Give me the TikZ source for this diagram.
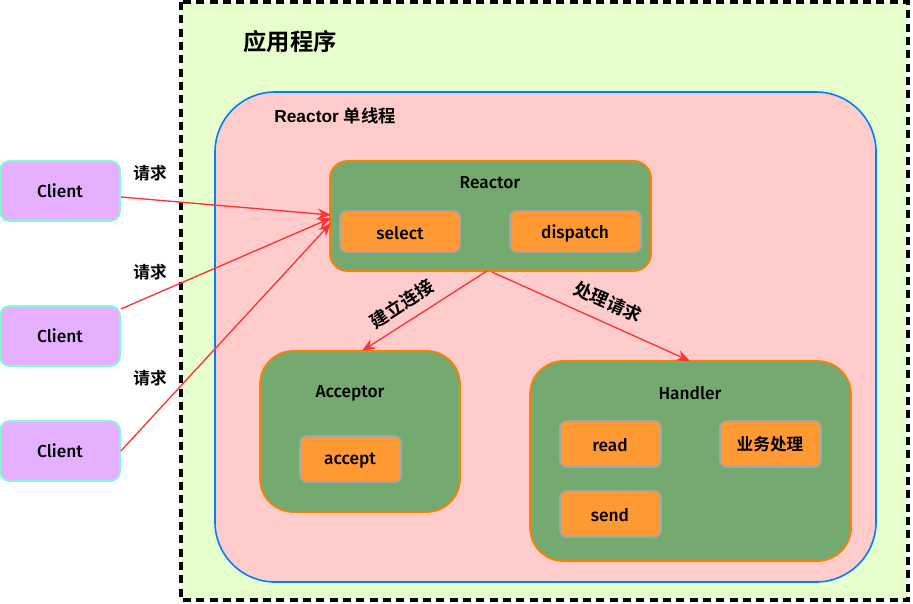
\documentclass[tikz,border=0pt]{standalone}
\usepackage{fontspec}
\setmainfont{Fira Sans}[UprightFont={* Medium}]
\newfontfamily\cjk{Noto Sans CJK SC}[BoldFont={* Bold}]
\newfontfamily\arialf{Liberation Sans}
\usetikzlibrary{arrows.meta}
\definecolor{appbg}{HTML}{E6FFCC}
\definecolor{thrbg}{HTML}{FFCCCC}
\definecolor{thrline}{HTML}{007FFF}
\definecolor{grn}{HTML}{74AA70}
\definecolor{orline}{HTML}{FF8000}
\definecolor{orfill}{HTML}{FF9933}
\definecolor{clfill}{HTML}{E5B0FF}
\definecolor{clline}{HTML}{80FFCC}
\definecolor{arr}{HTML}{FF3333}
\tikzset{
  bigbox/.style={draw=orline, fill=grn, line width=1.3pt},
  subbox/.style={draw=black!35, fill=orfill, line width=1.3pt, rounded corners=5pt},
  clbox/.style={draw=clline, fill=clfill, line width=1.3pt, rounded corners=7pt},
  lbl/.style={font=\fontsize{13}{15}\selectfont},
  cjklbl/.style={font=\cjk\bfseries\fontsize{12.5}{14}\selectfont},
  rotlbl/.style={font=\cjk\bfseries\fontsize{13.5}{15}\selectfont},
  conn/.style={draw=arr, line width=1pt, -{Stealth[length=10pt,width=8pt]}},
}
\begin{document}
\begin{tikzpicture}[x=0.75pt,y=-0.75pt]
\useasboundingbox (0,0) rectangle (913,603);
% application
\path[fill=appbg] (181,2) rectangle (908,600);
\draw[line width=2.4pt, dash pattern=on 6pt off 4pt] (181,2) rectangle (908,600);
\node[font=\cjk\bfseries\fontsize{17.5}{20}\selectfont] (app) at (290,42) {应用程序};
% single thread
\draw[draw=thrline, fill=thrbg, line width=1.2pt, rounded corners=45pt] (215,92) rectangle (876,582);
\node[font=\arialf\bfseries\fontsize{13}{15}\selectfont] (thr) at (335,116) {Reactor {\cjk\bfseries 单线程}};
% reactor
\draw[bigbox, rounded corners=13pt] (330,161) rectangle (651,271);
\coordinate (rb1) at (487,271);
\coordinate (rb2) at (492,272);
\node[lbl] (reactor) at (490,183) {Reactor};
\draw[subbox] (340,211) rectangle (460,252);
\node[lbl] (select) at (400,233) {select};
\draw[subbox] (510,211) rectangle (641,252);
\node[lbl] (dispatch) at (575,233) {dispatch};
% acceptor
\draw[bigbox, rounded corners=25pt] (260,351) rectangle (460,512);
\coordinate (acctop) at (362,351);
\node[lbl] (acceptor) at (350,393) {Acceptor};
\draw[subbox] (300,436) rectangle (401,482);
\node[lbl] (accept) at (350,461) {accept};
% handler
\draw[bigbox, rounded corners=25pt] (530,361) rectangle (851,561);
\coordinate (htop) at (690,361);
\node[lbl] (handler) at (690,393) {Handler};
\draw[subbox] (560,421) rectangle (661,467);
\node[lbl] (read) at (610,445) {read};
\draw[subbox] (720,421) rectangle (821,467);
\node[cjklbl] (biz) at (770,444) {业务处理};
\draw[subbox] (560,491) rectangle (661,537);
\node[lbl] (send) at (610,515) {send};
% clients
\node[clbox, minimum width=90pt, minimum height=45pt, lbl] (c1) at (60,191) {Client};
\node[clbox, minimum width=90pt, minimum height=45pt, lbl] (c2) at (60,336) {Client};
\node[clbox, minimum width=90pt, minimum height=45pt, lbl] (c3) at (60,451) {Client};
\node[cjklbl] (q1) at (150,173) {请求};
\node[cjklbl] (q2) at (150,272) {请求};
\node[cjklbl] (q3) at (150,378) {请求};
\coordinate (e1) at (331,215);
\coordinate (e2) at (331,218);
\coordinate (e3) at (331,223);
\draw[conn] (c1.east |- 0,197) -- (e1);
\draw[conn] (c2.east |- 0,309) -- (e2);
\draw[conn] (c3.east) -- (e3);
% internal
\draw[conn] (rb1) -- (acctop);
\draw[conn] (rb2) -- (htop);
\node[rotlbl, rotate=33] (jl) at (402,304) {建立连接};
\node[rotlbl, rotate=-24] (cl) at (608,302) {处理请求};
\end{tikzpicture}
\end{document}
